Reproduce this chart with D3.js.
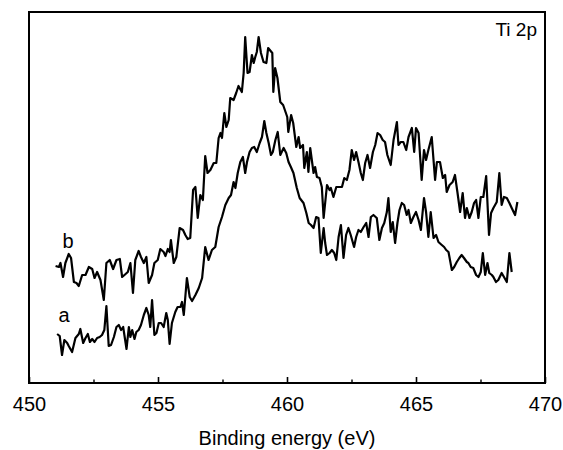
<!DOCTYPE html>
<html>
<head>
<meta charset="utf-8">
<script src="https://cdn.jsdelivr.net/npm/d3@7"></script>
<style>
  html, body { margin: 0; padding: 0; background: #fff; }
  svg { display: block; font-family: "Liberation Sans", Arial, Helvetica, sans-serif; }
</style>
</head>
<body>
<svg id="chart" width="563" height="450"></svg>
<script>
// Binding energy (eV) for curve b
const energyB = [451.03,451.16,451.22,451.32,451.41,451.54,451.63,451.74,451.84,451.93,452.06,452.19,452.32,452.45,452.54,452.64,452.77,452.90,453.00,453.13,453.26,453.39,453.52,453.61,453.70,453.83,453.93,454.03,454.12,454.25,454.34,454.45,454.55,454.64,454.77,454.86,454.99,455.09,455.22,455.29,455.38,455.45,455.50,455.61,455.71,455.84,455.97,456.06,456.15,456.25,456.36,456.45,456.54,456.64,456.74,456.83,456.92,457.03,457.16,457.26,457.35,457.42,457.48,457.57,457.65,457.74,457.80,457.93,458.03,458.12,458.25,458.32,458.38,458.47,458.55,458.64,458.71,458.77,458.83,458.90,458.99,459.09,459.20,459.27,459.43,459.47,459.54,459.63,459.74,459.85,460.01,460.05,460.16,460.24,460.36,460.45,460.51,460.62,460.67,460.77,460.83,460.90,461.03,461.09,461.16,461.26,461.35,461.42,461.55,461.65,461.70,461.80,461.91,462.00,462.13,462.22,462.32,462.42,462.51,462.60,462.68,462.77,462.86,462.94,463.03,463.12,463.22,463.33,463.42,463.51,463.61,463.71,463.80,463.89,464.02,464.13,464.26,464.32,464.41,464.51,464.62,464.71,464.84,464.93,465.00,465.10,465.22,465.31,465.39,465.48,465.61,465.74,465.81,465.93,466.04,466.13,466.19,466.30,466.42,466.51,466.61,466.71,466.81,466.90,466.97,467.07,467.16,467.25,467.33,467.42,467.51,467.61,467.72,467.83,467.91,468.00,468.13,468.23,468.32,468.41,468.52,468.62,468.71,468.84,468.93];
// Intensity (a.u.) for curve b
const intensityB = [117,116,120,106,120,129,125,101,100,97,108,108,116,114,105,111,103,83,120,123,114,123,124,106,108,111,120,90,123,132,126,120,126,100,108,120,123,134,131,127,134,131,143,120,126,155,153,148,144,145,193,196,165,188,183,227,210,213,220,220,245,250,245,270,256,263,285,283,290,297,291,310,346,310,311,328,320,326,331,346,330,321,320,335,330,291,315,305,281,278,266,251,268,260,236,246,235,238,215,231,211,235,210,216,206,205,196,165,198,193,195,186,196,196,196,205,203,213,233,223,231,221,210,203,220,228,215,231,238,250,248,243,241,228,218,243,261,238,241,241,233,246,255,231,255,250,203,233,223,233,246,203,221,221,205,208,191,198,201,208,190,171,190,165,175,165,171,180,183,165,186,186,207,148,170,175,181,210,178,186,185,180,175,168,181];

// Binding energy (eV) for curve a
const energyA = [451.09,451.19,451.28,451.37,451.48,451.54,451.67,451.80,451.93,451.99,452.10,452.19,452.28,452.36,452.45,452.54,452.64,452.74,452.83,452.92,453.00,453.09,453.18,453.29,453.39,453.48,453.57,453.65,453.78,453.87,453.93,454.00,454.09,454.16,454.25,454.34,454.45,454.55,454.64,454.70,454.77,454.86,454.94,455.03,455.12,455.22,455.32,455.38,455.45,455.54,455.67,455.76,455.87,455.93,456.00,456.12,456.23,456.32,456.45,456.58,456.71,456.83,456.96,457.09,457.22,457.35,457.48,457.61,457.74,457.83,457.93,458.00,458.09,458.19,458.29,458.38,458.45,458.55,458.64,458.73,458.83,458.94,459.03,459.12,459.20,459.29,459.38,459.45,459.55,459.64,459.74,459.87,459.97,460.06,460.15,460.25,460.38,460.49,460.64,460.75,460.84,460.93,461.03,461.13,461.22,461.31,461.42,461.48,461.55,461.65,461.74,461.83,461.91,462.00,462.09,462.19,462.29,462.38,462.47,462.60,462.68,462.77,462.86,462.97,463.07,463.16,463.25,463.35,463.48,463.58,463.68,463.77,463.87,463.93,464.02,464.10,464.19,464.28,464.36,464.45,464.54,464.64,464.71,464.80,464.90,465.00,465.10,465.19,465.31,465.39,465.48,465.57,465.68,465.78,465.87,466.00,466.09,466.17,466.26,466.39,466.48,466.58,466.68,466.77,466.86,466.97,467.03,467.12,467.22,467.33,467.42,467.51,467.59,467.68,467.77,467.84,467.94,468.00,468.10,468.19,468.32,468.41,468.52,468.62,468.71];
// Intensity (a.u.) for curve a
const intensityA = [49,47,28,43,40,37,31,45,49,54,40,45,49,41,44,41,45,46,48,53,77,37,38,46,56,58,53,56,34,56,46,53,44,51,53,58,68,75,68,56,83,48,50,60,60,56,70,63,39,60,71,76,76,81,68,105,86,82,88,95,105,136,123,133,136,156,166,178,185,188,201,195,210,221,226,210,221,231,235,236,231,240,246,262,250,240,228,231,243,251,228,235,230,221,216,210,195,185,180,170,160,158,155,166,165,130,155,140,128,130,133,130,123,146,158,125,148,155,148,136,146,153,151,156,160,146,166,168,165,143,155,160,171,185,151,161,140,160,173,180,178,168,173,160,166,171,163,153,185,171,146,171,145,148,141,138,136,133,131,113,116,121,125,128,125,121,120,116,115,108,106,111,130,108,120,110,108,106,101,103,110,106,101,130,111];

const xTicks = [450, 455, 460, 465, 470];
const xMinorTicks = [452.5, 457.5, 462.5, 467.5];
const seriesLabels = ["a", "b"];
const xTitle = "Binding energy (eV)";
const panelLabel = "Ti 2p";

const svg = d3.select("#chart");
const m = { left: 29, right: 545, top: 12, bottom: 383 };

const x = d3.scaleLinear().domain([450, 470]).range([m.left, m.right]);
const y = d3.scaleLinear().domain([0, 371]).range([m.bottom, m.top]);

// frame
svg.append("rect")
  .attr("x", m.left).attr("y", m.top)
  .attr("width", m.right - m.left).attr("height", m.bottom - m.top)
  .attr("fill", "none").attr("stroke", "#000").attr("stroke-width", 2);

// x axis with inward ticks
const axis = svg.append("g").attr("transform", `translate(0,${m.bottom})`);
axis.call(d3.axisBottom(x).tickValues(xTicks).tickSize(-6).tickPadding(14).tickFormat(d3.format("d")));
axis.select(".domain").remove();
axis.selectAll(".tick line").attr("stroke", "#000").attr("stroke-width", 1.6);
axis.selectAll(".tick text")
  .attr("font-size", 20).attr("fill", "#000")
  .attr("font-family", "'Liberation Sans', Arial, sans-serif");

const minor = svg.append("g").attr("transform", `translate(0,${m.bottom})`);
minor.call(d3.axisBottom(x).tickValues(xMinorTicks).tickSize(-3.5).tickFormat(""));
minor.select(".domain").remove();
minor.selectAll(".tick line").attr("stroke", "#000").attr("stroke-width", 1.4);

// title
svg.append("text")
  .attr("x", (m.left + m.right) / 2).attr("y", 445)
  .attr("text-anchor", "middle").attr("font-size", 20).attr("fill", "#000")
  .text(xTitle);

// panel label
svg.append("text")
  .attr("x", 537).attr("y", 36)
  .attr("text-anchor", "end").attr("font-size", 19).attr("fill", "#000")
  .text(panelLabel);

const line = d3.line().x(d => x(d[0])).y(d => y(d[1]));
const dataB = energyB.map((e, i) => [e, intensityB[i]]);
const dataA = energyA.map((e, i) => [e, intensityA[i]]);

svg.append("path").datum(dataB)
  .attr("d", line).attr("fill", "none").attr("stroke", "#000")
  .attr("stroke-width", 2.2).attr("stroke-linejoin", "round");
svg.append("path").datum(dataA)
  .attr("d", line).attr("fill", "none").attr("stroke", "#000")
  .attr("stroke-width", 2.2).attr("stroke-linejoin", "round");

// series labels
svg.append("text").attr("x", 68).attr("y", 248)
  .attr("text-anchor", "middle").attr("font-size", 20).attr("fill", "#000")
  .text(seriesLabels[1]);
svg.append("text").attr("x", 64).attr("y", 322)
  .attr("text-anchor", "middle").attr("font-size", 20).attr("fill", "#000")
  .text(seriesLabels[0]);
</script>
</body>
</html>
